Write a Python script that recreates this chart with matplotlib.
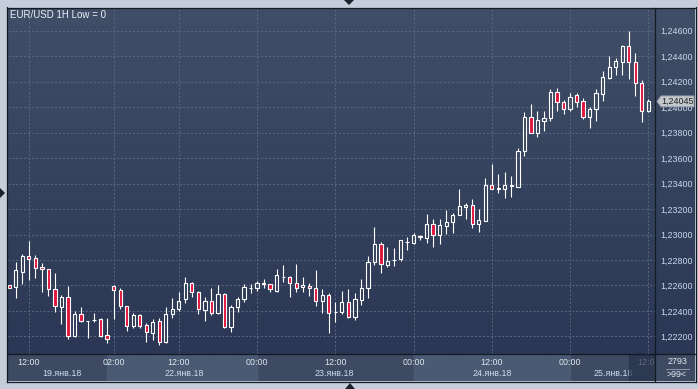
import matplotlib
matplotlib.use("Agg")
import matplotlib.pyplot as plt
import numpy as np
from matplotlib.patches import Rectangle, Polygon
from matplotlib.lines import Line2D

plt.rcParams['font.family'] = ['Liberation Sans', 'DejaVu Sans']

# EUR/USD 1H свечи (по порядку)
opens = [1.22601, 1.22586, 1.22703, 1.22829, 1.22813, 1.22742, 1.22727, 1.22569, 1.22428, 1.22507,
         1.22200, 1.22373, 1.22318, 1.22326, 1.22334, 1.22208, 1.22593, 1.22562, 1.22436, 1.22279,
         1.22365, 1.22287, 1.22224, 1.22318, 1.22153, 1.22373, 1.22412, 1.22491, 1.22617, 1.22546,
         1.22404, 1.22475, 1.22381, 1.22530, 1.22271, 1.22428, 1.22491, 1.22578, 1.22578, 1.22609,
         1.22609, 1.22554, 1.22664, 1.22664, 1.22617, 1.22585, 1.22593, 1.22578, 1.22475, 1.22522,
         1.22389, 1.22389, 1.22467, 1.22349, 1.22483, 1.22578, 1.22781, 1.22923, 1.22758, 1.22797,
         1.22805, 1.22939, 1.22931, 1.22988, 1.22973, 1.23086, 1.23000, 1.23067, 1.23099, 1.23155,
         1.23219, 1.23235, 1.23086, 1.23108, 1.23392, 1.23361, 1.23361, 1.23392, 1.23374, 1.23658,
         1.23919, 1.23800, 1.23890, 1.23911, 1.24116, 1.24037, 1.23982, 1.24092, 1.24047, 1.23924,
         1.23982, 1.24102, 1.24226, 1.24312, 1.24351, 1.24479, 1.24351, 1.24186, 1.23969]
highs = [1.22605, 1.22781, 1.22845, 1.22947, 1.22837, 1.22774, 1.22731, 1.22695, 1.22522, 1.22593,
         1.22397, 1.22428, 1.22322, 1.22381, 1.22341, 1.22341, 1.22601, 1.22578, 1.22440, 1.22381,
         1.22373, 1.22302, 1.22334, 1.22341, 1.22428, 1.22499, 1.22546, 1.22664, 1.22625, 1.22554,
         1.22507, 1.22578, 1.22601, 1.22538, 1.22444, 1.22507, 1.22609, 1.22609, 1.22632, 1.22648,
         1.22613, 1.22727, 1.22758, 1.22672, 1.22766, 1.22664, 1.22617, 1.22719, 1.22569, 1.22538,
         1.22467, 1.22554, 1.22569, 1.22538, 1.22648, 1.22829, 1.23057, 1.22939, 1.22900, 1.22892,
         1.22959, 1.22978, 1.23010, 1.22994, 1.23159, 1.23125, 1.23120, 1.23190, 1.23167, 1.23361,
         1.23245, 1.23282, 1.23198, 1.23440, 1.23557, 1.23473, 1.23487, 1.23458, 1.23680, 1.23958,
         1.24021, 1.23969, 1.23969, 1.24141, 1.24152, 1.24055, 1.24112, 1.24108, 1.24068, 1.24002,
         1.24139, 1.24283, 1.24401, 1.24386, 1.24487, 1.24597, 1.24422, 1.24212, 1.24063]
lows = [1.22578, 1.22499, 1.22609, 1.22640, 1.22656, 1.22546, 1.22514, 1.22389, 1.22294, 1.22176,
        1.22196, 1.22310, 1.22184, 1.22310, 1.22196, 1.22145, 1.22334, 1.22412, 1.22239, 1.22263,
        1.22263, 1.22153, 1.22169, 1.22129, 1.22145, 1.22341, 1.22397, 1.22459, 1.22507, 1.22373,
        1.22318, 1.22365, 1.22373, 1.22263, 1.22232, 1.22389, 1.22467, 1.22538, 1.22554, 1.22578,
        1.22546, 1.22550, 1.22625, 1.22507, 1.22546, 1.22546, 1.22514, 1.22436, 1.22381, 1.22224,
        1.22310, 1.22373, 1.22345, 1.22326, 1.22444, 1.22499, 1.22758, 1.22695, 1.22742, 1.22750,
        1.22790, 1.22876, 1.22923, 1.22955, 1.22931, 1.22902, 1.22923, 1.23007, 1.23010, 1.23151,
        1.23120, 1.23053, 1.23020, 1.23104, 1.23355, 1.23326, 1.23290, 1.23295, 1.23371, 1.23617,
        1.23793, 1.23762, 1.23811, 1.23892, 1.23969, 1.23943, 1.23971, 1.24002, 1.23903, 1.23835,
        1.23892, 1.24050, 1.24224, 1.24252, 1.24252, 1.24220, 1.24089, 1.23884, 1.23965]
closes = [1.22583, 1.22719, 1.22829, 1.22805, 1.22734, 1.22727, 1.22569, 1.22436, 1.22507, 1.22200,
          1.22373, 1.22318, 1.22318, 1.22326, 1.22200, 1.22176, 1.22562, 1.22436, 1.22279, 1.22365,
          1.22279, 1.22232, 1.22310, 1.22153, 1.22373, 1.22412, 1.22475, 1.22617, 1.22546, 1.22412,
          1.22475, 1.22381, 1.22530, 1.22271, 1.22428, 1.22491, 1.22585, 1.22581, 1.22617, 1.22617,
          1.22569, 1.22680, 1.22668, 1.22617, 1.22578, 1.22601, 1.22578, 1.22475, 1.22522, 1.22381,
          1.22393, 1.22467, 1.22349, 1.22491, 1.22578, 1.22781, 1.22923, 1.22766, 1.22790, 1.22801,
          1.22955, 1.22943, 1.22994, 1.22978, 1.23086, 1.23000, 1.23073, 1.23102, 1.23151, 1.23222,
          1.23235, 1.23086, 1.23112, 1.23392, 1.23361, 1.23363, 1.23392, 1.23377, 1.23652, 1.23919,
          1.23800, 1.23898, 1.23911, 1.24116, 1.24037, 1.23982, 1.24081, 1.24042, 1.23924, 1.23982,
          1.24108, 1.24233, 1.24312, 1.24362, 1.24479, 1.24351, 1.24186, 1.23969, 1.24045]

time_ticks = [4, 17, 27, 39, 51, 63, 75, 87, 99]
time_labels = ['12:00', '02:00', '12:00', '00:00', '12:00', '00:00', '12:00', '00:00', '12:00']
date_pos = [9.1, 27.9, 50.9, 75.0, 93.6]
date_labels = ['19.янв.18', '22.янв.18', '23.янв.18', '24.янв.18', '25.янв.18']
light_days = [(16, 39), (63, 87)]
price_ticks = [1.222, 1.224, 1.226, 1.228, 1.230, 1.232, 1.234, 1.236, 1.238, 1.240, 1.242, 1.244, 1.246]
last_price = 1.24045
title = 'EUR/USD 1H Low = 0'

W, H = 698, 389
fig = plt.figure(figsize=(W / 100, H / 100), dpi=100)
fig.patch.set_facecolor('#c4ceda')


def box(x0, y0, x1, y1):
    # пиксели (сверху вниз) -> доли фигуры
    return [x0 / W, 1 - y1 / H, (x1 - x0) / W, (y1 - y0) / H]


def fp(x, y):
    return (x / W, 1 - y / H)


# фон с градиентом (график + правая шкала)
bg = fig.add_axes(box(8, 8, 695, 354))
top = np.array([64, 78, 103]) / 255
bot = np.array([43, 55, 84]) / 255
t = np.linspace(0, 1, 200)[:, None]
grad = (top * (1 - t) + bot * t)[:, None, :]
bg.imshow(grad, aspect='auto', extent=[0, 1, 0, 1])
bg.axis('off')

ax = fig.add_axes(box(8, 8, 655, 354))
ax.patch.set_alpha(0)
for s in ax.spines.values():
    s.set_visible(False)
ax.set_xlim(0.8, 100.03)
ax.set_ylim(1.22062, 1.24778)

ax.set_xticks(time_ticks)
ax.set_yticks(price_ticks)
ax.set_yticklabels([('%.5f' % v).replace('.', ',') for v in price_ticks])
ax.yaxis.tick_right()
ax.tick_params(axis='y', length=0, pad=4, labelsize=6.4, labelcolor='#cbd8ec')
ax.tick_params(axis='x', length=0, labelbottom=False)
ax.grid(True, color='#5a6884', linestyle=(0, (2, 2)), linewidth=0.7)
ax.set_axisbelow(True)

red = '#e0143c'
for i in range(len(opens)):
    x = i + 1
    o, h, l, c = opens[i], highs[i], lows[i], closes[i]
    hi_b, lo_b = max(o, c), min(o, c)
    ax.vlines(x, hi_b, h, color='white', linewidth=0.8, zorder=3)
    ax.vlines(x, l, lo_b, color='white', linewidth=0.8, zorder=3)
    fc = 'none' if c >= o else red
    ax.add_patch(Rectangle((x - 0.25, lo_b), 0.5, hi_b - lo_b, facecolor=fc,
                           edgecolor='white', linewidth=0.8, zorder=4))

fig.text(*fp(10, 15), title, color='#eef2f8', fontsize=7, va='center', ha='left')

# метка текущей цены
fig.canvas.draw()
yd = ax.transData.transform((1, last_price))[1]
ypx = H - yd
lab = Polygon([fp(657, ypx), fp(661, ypx - 5.5), fp(694, ypx - 5.5),
               fp(694, ypx + 5.5), fp(661, ypx + 5.5)], closed=True,
              facecolor='#c3c6cb', edgecolor='#8f96a0', linewidth=0.6,
              transform=fig.transFigure, zorder=10)
fig.add_artist(lab)
fig.text(*fp(677.5, ypx), ('%.5f' % last_price).replace('.', ','), fontsize=6.4,
         color='#222222', ha='center', va='center', zorder=11)

# шкала времени
axb = fig.add_axes(box(8, 354.5, 655, 381))
axb.set_facecolor('#3e4a62')
axb.set_xlim(ax.get_xlim())
axb.set_ylim(0, 1)
for a, b in light_days:
    axb.axvspan(a, b, color='#4b5a73', zorder=0)
for x, s in zip(time_ticks, time_labels):
    axb.text(x, 0.69, s, color='#e2e8f0', fontsize=6.4, ha='center', va='center', clip_on=True)
for x, s in zip(date_pos, date_labels):
    axb.text(x, 0.28, s, color='#cfdcee', fontsize=6.4, ha='center', va='center', clip_on=True)
axb.axvspan(96.1, 100.03, color='#26324a', alpha=0.7, zorder=5)
axb.set_xticks([])
axb.set_yticks([])
for s in axb.spines.values():
    s.set_visible(False)

# правый нижний блок
axr = fig.add_axes(box(655, 354.5, 695, 381))
axr.set_facecolor('#3e4a62')
axr.set_xticks([])
axr.set_yticks([])
for s in axr.spines.values():
    s.set_visible(False)
axr.text(0.55, 0.74, '2793', color='#e2e8f0', fontsize=6.4, ha='center', va='center')
axr.plot([0.28, 0.84], [0.44, 0.44], color='#8a96aa', linewidth=0.7)
axr.text(0.55, 0.24, '>99<', color='#e2e8f0', fontsize=6.4, ha='center', va='center')
axr.set_xlim(0, 1)
axr.set_ylim(0, 1)

# рамки
for xs, ys in [((655, 655), (8, 381)), ((8, 695), (354, 354)),
               ((7.5, 7.5), (7, 381.5)), ((7, 695.5), (7.5, 7.5)),
               ((695.5, 695.5), (7, 381.5)), ((7, 695.5), (381.5, 381.5))]:
    fig.add_artist(Line2D([x / W for x in xs], [1 - y / H for y in ys],
                          color='#141a24', linewidth=0.9, transform=fig.transFigure))

# маленькие стрелки
for pts in [[(344, 0), (354, 0), (349, 5)],
            [(345, 389), (355, 389), (350, 383)],
            [(0, 188), (0, 198), (5, 193)]]:
    fig.add_artist(Polygon([fp(x, y) for x, y in pts], closed=True, facecolor='#1c222c',
                           edgecolor='none', transform=fig.transFigure))

fig.savefig('out.png', dpi=100, facecolor=fig.get_facecolor())
